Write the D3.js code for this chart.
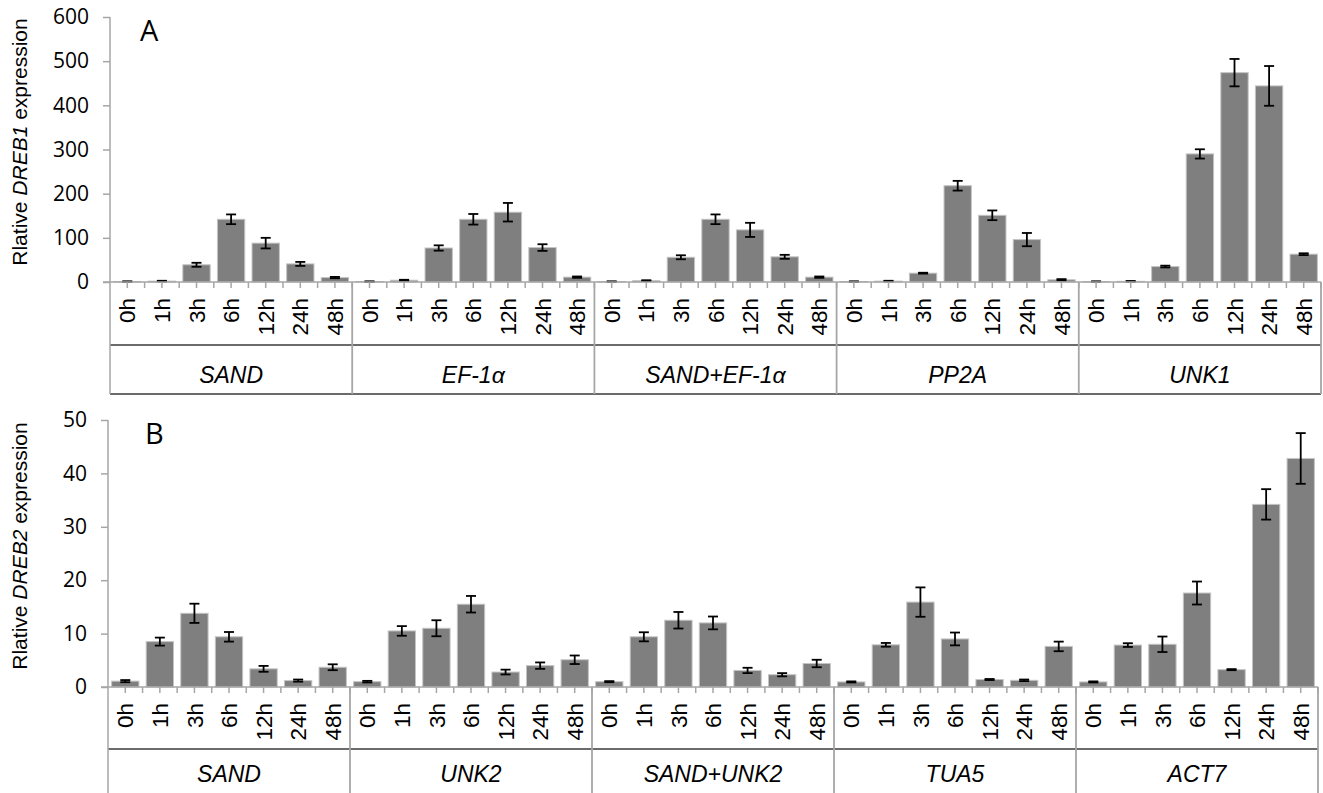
<!DOCTYPE html>
<html>
<head>
<meta charset="utf-8">
<script src="https://cdn.jsdelivr.net/npm/d3@7"></script>
<style>
  body { margin: 0; background: #fff; }
  svg { display: block; }
  .ytick text { font-family: "Open Sans", sans-serif; font-size: 21px; fill: #000; }
  .xlab { font-family: "Liberation Sans", Arial, sans-serif; font-size: 22.5px; fill: #000; }
  .glab { font-family: "Liberation Sans", Arial, sans-serif; font-size: 23px; font-style: italic; fill: #000; }
  .ytitle { font-family: "Liberation Sans", Arial, sans-serif; font-size: 21px; fill: #000; }
  .panel { font-family: "Open Sans", sans-serif; font-size: 29px; fill: #000; }
</style>
</head>
<body>
<div id="chart"></div>
<script>
// time points shared by every reference gene group
var timePoints = ["0h", "1h", "3h", "6h", "12h", "24h", "48h"];

// panel A - DREB1
var groupsA = ["SAND", "EF-1α", "SAND+EF-1α", "PP2A", "UNK1"];
var meanA = [
  [1, 2, 39, 142, 88, 41, 10],
  [1, 4, 77, 142, 158, 78, 11],
  [1, 3, 56, 142, 118, 57, 11],
  [1, 2, 20, 218, 151, 96, 5],
  [1, 1.5, 35, 290, 474, 444, 63]
];
var errA = [
  [0.5, 0.8, 4.5, 11, 12, 4.5, 1.5],
  [0.5, 1, 6, 12, 21, 7.5, 1.5],
  [0.5, 1, 4.5, 11, 16, 4.5, 1.5],
  [0.5, 0.8, 1, 11, 11, 15, 1.5],
  [0.5, 0.8, 2, 10.5, 31, 45, 2]
];
var ticksA = [0, 100, 200, 300, 400, 500, 600];

// panel B - DREB2
var groupsB = ["SAND", "UNK2", "SAND+UNK2", "TUA5", "ACT7"];
var meanB = [
  [1.1, 8.5, 13.8, 9.4, 3.4, 1.2, 3.7],
  [1.0, 10.5, 11.0, 15.5, 2.8, 4.0, 5.1],
  [1.0, 9.4, 12.5, 12.0, 3.1, 2.3, 4.4],
  [0.95, 7.9, 15.9, 9.0, 1.4, 1.25, 7.6],
  [0.95, 7.85, 8.0, 17.6, 3.25, 34.2, 42.8]
];
var errB = [
  [0.2, 0.75, 1.8, 0.9, 0.55, 0.2, 0.55],
  [0.15, 0.9, 1.5, 1.55, 0.45, 0.6, 0.8],
  [0.1, 0.85, 1.55, 1.2, 0.5, 0.3, 0.7],
  [0.1, 0.35, 2.75, 1.2, 0.1, 0.15, 0.9],
  [0.1, 0.35, 1.45, 2.15, 0.1, 2.85, 4.75]
];
var ticksB = [0, 10, 20, 30, 40, 50];

var svgWidth = 1323;
var svgHeight = 793;

var svg = d3.select("#chart")
  .append("svg")
  .attr("width", svgWidth)
  .attr("height", svgHeight);

svg.append("rect").attr("width", svgWidth).attr("height", svgHeight).attr("fill", "#fff");

function drawPanel(p) {
  var g = svg.append("g");

  // flatten groups x time points into one row of bars
  var rows = [];
  p.groups.forEach(function(grp, gi) {
    timePoints.forEach(function(t, ti) {
      rows.push({ id: gi + "_" + ti, group: grp, time: t, value: p.mean[gi][ti], err: p.err[gi][ti] });
    });
  });

  var x = d3.scaleBand()
    .domain(rows.map(d => d.id))
    .range([p.x0, p.x1])
    .paddingInner(0.21)
    .paddingOuter(0.105);

  var xGroup = d3.scaleBand()
    .domain(p.groups)
    .range([p.x0, p.x1]);

  var y = d3.scaleLinear()
    .domain([0, p.max])
    .range([p.yZero, p.yTop]);

  // y axis
  var leftAxis = d3.axisLeft(y).tickValues(p.ticks).tickSize(7).tickPadding(14);
  var yAx = g.append("g")
    .attr("class", "ytick")
    .attr("transform", `translate(${p.x0}, 0)`)
    .call(leftAxis);
  yAx.select(".domain").remove();
  yAx.selectAll("line").attr("stroke", "#a6a6a6").attr("stroke-width", 1.5);
  yAx.selectAll("text").attr("font-family", null).attr("font-size", null).attr("fill", "#000");

  // bars
  g.selectAll(".bar")
    .data(rows)
    .enter()
    .append("rect")
    .attr("x", d => x(d.id))
    .attr("y", d => y(d.value))
    .attr("width", x.bandwidth())
    .attr("height", d => p.yZero - y(d.value))
    .attr("fill", "#7f7f7f")
    .attr("stroke", "#c4c4c4")
    .attr("stroke-width", 1);

  // error bars
  var cap = 5;
  var eb = g.selectAll(".err").data(rows).enter().append("g");
  eb.append("line")
    .attr("x1", d => x(d.id) + x.bandwidth() / 2)
    .attr("x2", d => x(d.id) + x.bandwidth() / 2)
    .attr("y1", d => y(d.value + d.err))
    .attr("y2", d => y(Math.max(0, d.value - d.err)));
  eb.append("line")
    .attr("x1", d => x(d.id) + x.bandwidth() / 2 - cap)
    .attr("x2", d => x(d.id) + x.bandwidth() / 2 + cap)
    .attr("y1", d => y(d.value + d.err))
    .attr("y2", d => y(d.value + d.err));
  eb.append("line")
    .attr("x1", d => x(d.id) + x.bandwidth() / 2 - cap)
    .attr("x2", d => x(d.id) + x.bandwidth() / 2 + cap)
    .attr("y1", d => y(Math.max(0, d.value - d.err)))
    .attr("y2", d => y(Math.max(0, d.value - d.err)));
  eb.selectAll("line").attr("stroke", "#000").attr("stroke-width", 1.8);

  // x axis line
  g.append("line")
    .attr("x1", p.x0 - 7).attr("x2", p.x1)
    .attr("y1", p.yZero).attr("y2", p.yZero)
    .attr("stroke", "#a6a6a6").attr("stroke-width", 1.5);

  // small ticks at bar centres and bar boundaries
  var step = x.step();
  var tickXs = [];
  rows.forEach(function(d) {
    var c = x(d.id) + x.bandwidth() / 2;
    tickXs.push(c, c + step / 2);
  });
  g.selectAll(".xt")
    .data(tickXs)
    .enter()
    .append("line")
    .attr("x1", d => d).attr("x2", d => d)
    .attr("y1", p.yZero).attr("y2", p.yZero + 6)
    .attr("stroke", "#a6a6a6").attr("stroke-width", 1.5);

  // time labels
  g.selectAll(".xlab")
    .data(rows)
    .enter()
    .append("text")
    .attr("class", "xlab")
    .attr("transform", d => `translate(${x(d.id) + x.bandwidth() / 2}, ${p.yZero + 16}) rotate(-90)`)
    .attr("text-anchor", "end")
    .attr("dy", "0.36em")
    .text(d => d.time);

  // group box lines
  g.append("line")
    .attr("x1", p.x0).attr("x2", p.x1)
    .attr("y1", p.lineY).attr("y2", p.lineY)
    .attr("stroke", "#3a3a3a").attr("stroke-width", 1.5);
  g.append("line")
    .attr("x1", p.x0).attr("x2", p.x1)
    .attr("y1", p.boxBottom).attr("y2", p.boxBottom)
    .attr("stroke", "#3a3a3a").attr("stroke-width", 1.5);

  // vertical separators: y axis down to box bottom, group edges from x axis
  g.append("line")
    .attr("x1", p.x0).attr("x2", p.x0)
    .attr("y1", p.yTop).attr("y2", p.boxBottom)
    .attr("stroke", "#a6a6a6").attr("stroke-width", 1.5);
  g.selectAll(".sep")
    .data(p.groups.slice(1).map(d => xGroup(d)).concat([p.x1]))
    .enter()
    .append("line")
    .attr("x1", d => d).attr("x2", d => d)
    .attr("y1", p.yZero).attr("y2", p.boxBottom)
    .attr("stroke", "#a6a6a6").attr("stroke-width", 1.8);

  // group names
  g.selectAll(".glab")
    .data(p.groups)
    .enter()
    .append("text")
    .attr("class", "glab")
    .attr("x", d => xGroup(d) + xGroup.bandwidth() / 2)
    .attr("y", p.groupY)
    .attr("text-anchor", "middle")
    .text(d => d);

  // y title
  var yt = g.append("text")
    .attr("class", "ytitle")
    .attr("transform", `translate(${p.titleX}, ${p.titleY}) rotate(-90)`)
    .attr("text-anchor", "middle");
  yt.append("tspan").text("Rlative ");
  yt.append("tspan").attr("font-style", "italic").text(p.gene);
  yt.append("tspan").text(" expression");

  // panel letter
  g.append("text")
    .attr("class", "panel")
    .attr("x", p.letterX)
    .attr("y", p.letterY)
    .text(p.letter);
}

drawPanel({
  groups: groupsA, mean: meanA, err: errA, ticks: ticksA, max: 600,
  x0: 110, x1: 1321, yTop: 17, yZero: 282,
  lineY: 345, boxBottom: 394, groupY: 383,
  titleX: 27, titleY: 142, gene: "DREB1",
  letter: "A", letterX: 140, letterY: 41
});

drawPanel({
  groups: groupsB, mean: meanB, err: errB, ticks: ticksB, max: 50,
  x0: 108, x1: 1318, yTop: 420, yZero: 687,
  lineY: 749, boxBottom: 800, groupY: 782,
  titleX: 27, titleY: 546, gene: "DREB2",
  letter: "B", letterX: 145, letterY: 444
});
</script>
</body>
</html>
